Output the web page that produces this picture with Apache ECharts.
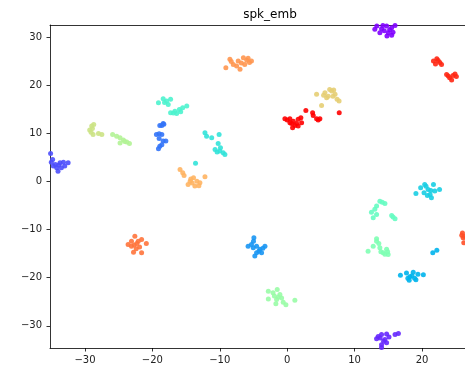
<!DOCTYPE html>
<html><head><meta charset="utf-8">
<script src="https://cdn.jsdelivr.net/npm/echarts@6/dist/echarts.min.js"></script>
<style>html,body{margin:0;padding:0;background:#fff}#c{width:465px;height:369px}</style>
</head><body><div id="c"></div>
<script>
const title = "spk_emb";
const xTicks = [-30, -20, -10, 0, 10, 20];
const yTicks = [-30, -20, -10, 0, 10, 20, 30];

const purpleTop = [[13.3,32.3],[14.0,31.7],[14.75,32.3],[15.5,31.95],[13.75,30.9],[15.0,30.9],[15.7,31.0],[14.8,30.2],[15.5,30.35],[14.4,31.3],[16.0,32.4],[13.0,31.6],[14.2,32.4],[15.2,31.5]];
const purpleBottom = [[13.5,-32.2],[14.0,-31.8],[14.75,-31.7],[13.26,-32.7],[14.5,-32.85],[14.75,-33.5],[14.0,-33.9],[16.0,-31.8],[16.5,-31.6],[14.3,-33.2],[14.0,-34.5],[13.8,-32.5],[15.1,-32.3]];
const blueViolet = [[-35.1,5.8],[-34.8,4.57],[-34.7,3.2],[-34.2,2.85],[-34.0,2.1],[-33.7,3.9],[-33.2,4.0],[-33.0,3.2],[-32.5,3.9],[-33.5,2.85],[-34.4,3.5],[-35.0,4.0],[-33.9,3.4]];
const blueA = [[-18.6,11.64],[-18.4,12.06],[-18.9,11.64],[-19.4,9.77],[-18.6,9.77],[-19.0,8.9],[-18.4,8.4],[-18.0,8.4],[-18.9,7.3],[-19.1,6.8],[-18.6,7.6],[-19.0,9.9],[-18.3,11.9]];
const blueB = [[-4.94,-11.7],[-5.3,-13.1],[-4.54,-13.45],[-5.8,-13.45],[-5.04,-13.8],[-4.05,-14.1],[-3.3,-13.45],[-4.54,-14.8],[-4.8,-15.5],[-3.8,-14.8],[-5.0,-12.4],[-4.2,-14.5],[-3.6,-13.9]];
const skyBlue = [[16.8,-19.5],[17.7,-19.0],[18.2,-19.8],[18.7,-18.85],[19.1,-20.4],[18.1,-20.5],[19.4,-19.3],[20.2,-19.4],[18.5,-19.6],[18.9,-20.1],[17.9,-20.1],[21.6,-14.8],[22.2,-14.3]];
const cyan = [[19.1,-2.5],[19.8,-1.3],[20.4,-0.62],[20.9,-1.66],[21.7,-0.62],[21.2,-2.7],[21.4,-3.4],[22.6,-1.66],[20.3,-2.35],[20.6,-1.0],[21.9,-2.0],[20.8,-2.9],[21.3,-1.9]];
const turquoise = [[-12.2,10.1],[-11.96,9.4],[-11.2,9.08],[-10.1,9.77],[-10.24,7.9],[-10.7,6.65],[-10.0,6.3],[-9.5,5.97],[-9.24,5.6],[-9.9,7.0],[-10.4,6.1],[-13.6,3.8]];
const aquamarine = [[-19.1,16.36],[-18.4,17.2],[-17.9,16.7],[-17.3,17.05],[-17.65,16.0],[-18.2,16.4],[-17.3,14.28],[-16.66,14.6],[-16.0,14.97],[-15.5,15.3],[-14.9,15.65],[-16.4,14.1],[-15.8,14.5],[-16.9,14.2]];
const greenUpper = [[13.75,-4.1],[14.5,-4.57],[13.26,-5.1],[13.0,-5.8],[12.5,-6.4],[13.26,-6.86],[12.76,-7.55],[15.5,-7.07],[16.0,-7.76],[15.7,-7.4],[14.1,-4.3]];
const greenLower = [[13.26,-12.4],[12.0,-14.5],[12.76,-13.45],[13.26,-11.9],[13.75,-13.8],[14.24,-14.8],[14.75,-14.1],[14.98,-15.2],[14.5,-15.1],[13.6,-12.9],[13.9,-14.6],[14.9,-14.6]];
const lightGreen = [[-2.8,-22.8],[-2.1,-23.1],[-1.48,-22.45],[-1.08,-23.5],[-2.8,-24.4],[-1.57,-24.5],[-0.83,-24.2],[-1.68,-25.4],[-0.59,-25.1],[-0.19,-25.6],[1.14,-24.7],[-1.3,-24.0],[-1.9,-23.8]];
const yellowGreenA = [[-29.0,11.5],[-28.7,11.85],[-29.3,10.67],[-28.8,9.77],[-28.0,9.98],[-27.5,9.77],[-28.9,11.0],[-29.1,10.2]];
const yellowGreenB = [[-25.9,9.77],[-25.3,9.4],[-24.8,9.08],[-24.3,8.6],[-24.8,8.0],[-23.8,8.17],[-23.4,7.9],[-24.1,8.3]];
const khaki = [[4.36,18.1],[5.1,15.8],[5.6,18.4],[6.1,17.7],[6.6,18.8],[7.1,18.1],[6.3,19.1],[7.4,17.05],[7.7,16.7],[5.85,17.4],[6.8,17.7],[5.4,17.9],[6.9,19.0]];
const lightOrange = [[-15.9,2.5],[-15.5,1.8],[-15.3,1.25],[-14.4,0.06],[-14.7,-0.62],[-13.9,0.77],[-13.4,0.06],[-12.95,-0.27],[-13.7,-0.97],[-13.1,-0.9],[-12.2,0.98],[-14.1,-0.3],[-14.3,0.5]];
const orange = [[-9.1,23.6],[-8.5,25.4],[-8.0,24.3],[-7.27,25.0],[-7.0,23.3],[-7.5,24.0],[-6.5,25.7],[-6.0,25.2],[-5.6,24.7],[-6.3,24.3],[-5.3,25.0],[-6.8,24.6],[-8.3,24.9],[-5.8,25.6]];
const orangeRed = [[-22.6,-11.4],[-23.1,-12.4],[-22.1,-12.4],[-21.6,-12.06],[-20.9,-12.9],[-23.6,-13.1],[-23.1,-13.45],[-22.3,-12.9],[-21.9,-13.6],[-22.8,-14.7],[-21.6,-14.8],[-22.4,-14.0],[-22.7,-13.2]];
const edgeRed = [[26.0,-10.7],[26.1,-11.7],[26.2,-12.75],[25.9,-11.2],[26.3,-11.4]];
const redRight = [[21.7,25.0],[22.2,25.5],[22.65,24.7],[22.0,24.4],[22.9,24.3],[23.65,22.2],[24.1,21.55],[24.6,22.0],[25.1,21.8],[24.4,21.06],[23.9,21.9],[24.9,22.3],[22.4,25.1]];
const red = [[-0.34,13.0],[0.0,12.75],[0.4,13.0],[0.9,12.5],[0.65,12.06],[1.14,11.64],[0.8,11.16],[1.4,12.06],[1.63,12.9],[2.03,13.24],[2.14,12.2],[1.63,11.5],[2.77,14.76],[3.77,14.28],[3.86,13.7],[4.36,13.03],[4.85,13.03],[7.72,14.28],[4.6,12.75],[0.4,12.2]];

const clusters = [purpleTop, purpleBottom, blueViolet, blueA, blueB, skyBlue, cyan, turquoise, aquamarine, greenUpper, greenLower, lightGreen, yellowGreenB, yellowGreenA, khaki, lightOrange, orange, orangeRed, edgeRed, redRight, red];
const colorPos = [0, 0.05, 0.1, 0.15, 0.2, 0.25, 0.3, 0.35, 0.4, 0.45, 0.5, 0.55, 0.6, 0.65, 0.7, 0.75, 0.8, 0.85, 0.9, 0.95, 1.0];

function rainbow(t) {
  const r = Math.min(1, Math.abs(2 * t - 0.5));
  const g = Math.sin(Math.PI * t);
  const b = Math.cos(Math.PI * t / 2);
  const h = v => Math.round(Math.max(0, Math.min(1, v)) * 255);
  return 'rgb(' + h(r) + ',' + h(g) + ',' + h(b) + ')';
}
const fmt = v => String(v).replace('-', '\u2212');
const XMIN = -35.19, XMAX = 26.38, YMIN = -34.6, YMAX = 32.5;

const chart = echarts.init(document.getElementById('c'), null, {renderer: 'canvas'});
chart.setOption({
  animation: false,
  title: {
    text: title, left: 265, top: 4, textAlign: 'center',
    textStyle: {fontFamily: 'DejaVu Sans', fontSize: 12, fontWeight: 'normal', color: '#000'}
  },
  grid: {left: 50, right: 0, top: 25, bottom: 21, show: false, containLabel: false, outerBoundsMode: 'none'},
  xAxis: [{
    type: 'value', min: XMIN, max: XMAX, position: 'bottom',
    splitLine: {show: false},
    axisLine: {show: true, onZero: false, lineStyle: {color: '#000', width: 0.8}},
    axisTick: {show: true, length: 3.5, lineStyle: {color: '#000', width: 0.8}, customValues: xTicks},
    axisLabel: {customValues: xTicks, formatter: fmt, fontFamily: 'DejaVu Sans', fontSize: 10, color: '#222', margin: 7}
  }, {
    type: 'value', min: XMIN, max: XMAX, position: 'top',
    splitLine: {show: false},
    axisLine: {show: true, onZero: false, lineStyle: {color: '#000', width: 0.8}},
    axisTick: {show: false}, axisLabel: {show: false}
  }],
  yAxis: {
    type: 'value', min: YMIN, max: YMAX,
    splitLine: {show: false},
    axisLine: {show: true, onZero: false, lineStyle: {color: '#000', width: 0.8}},
    axisTick: {show: true, length: 3.5, lineStyle: {color: '#000', width: 0.8}, customValues: yTicks},
    axisLabel: {customValues: yTicks, formatter: fmt, fontFamily: 'DejaVu Sans', fontSize: 10, color: '#222', margin: 8}
  },
  series: clusters.map((pts, i) => ({
    type: 'scatter', data: pts, symbolSize: 5, clip: true, xAxisIndex: 0,
    itemStyle: {color: rainbow(colorPos[i]), opacity: 0.9}
  }))
});
</script></body></html>
